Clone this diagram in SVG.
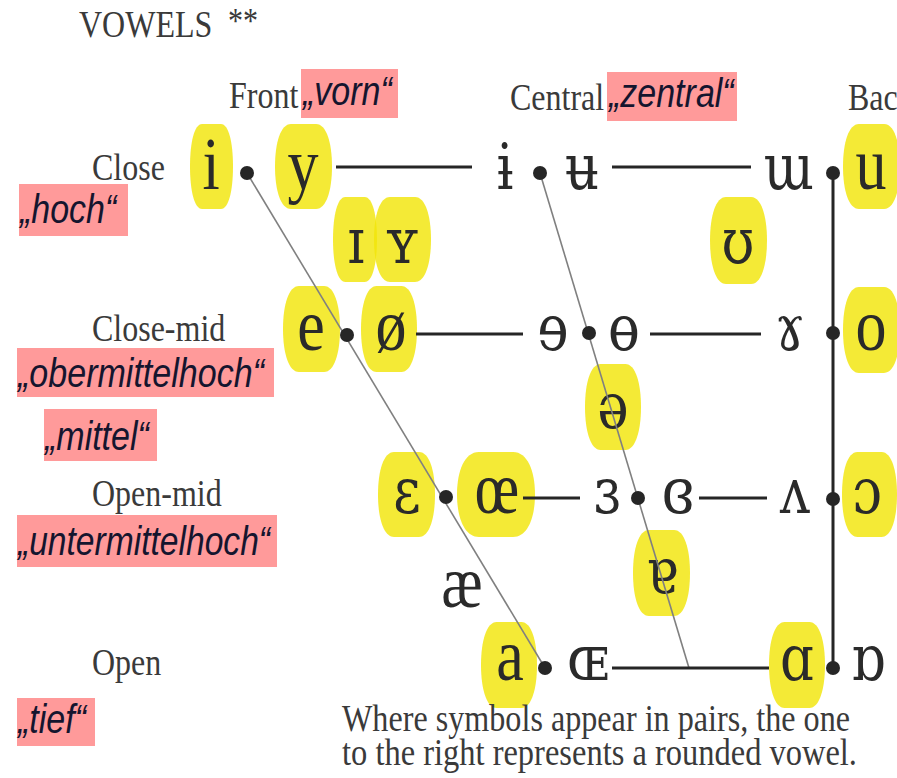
<svg xmlns="http://www.w3.org/2000/svg" width="897" height="778" viewBox="0 0 897 778">
<style>
.lbl{font-family:"Liberation Serif","DejaVu Serif",serif;font-size:32px;fill:#3a3a3a}
.sym{font-family:"Liberation Serif","DejaVu Serif",serif;font-size:62px;fill:#2a2a2a;text-anchor:middle}
.ipa{font-family:"DejaVu Serif","Liberation Serif",serif;font-size:53px;fill:#2a2a2a;text-anchor:middle}
.de{font-family:"Liberation Sans","DejaVu Sans",sans-serif;font-style:italic;font-size:34px;fill:#15152e}
.pink{fill:#ff9a9a}
.hl{fill:#f2e50a;fill-opacity:.82}
.ln{stroke:#262626;stroke-width:3;fill:none}
.thin{stroke:#808080;stroke-width:1.6;fill:none}
.dot{fill:#262626}
</style>
<defs>
<symbol id="hlshape" viewBox="0 0 100 100" preserveAspectRatio="none">
<path d="M28,0 H72 C90,0 100,22 100,50 C100,78 90,100 72,100 H28 C10,100 0,78 0,50 C0,22 10,0 28,0 Z"/>
</symbol>
</defs>
<rect width="897" height="778" fill="#ffffff"/>

<g id="title">
<text class="lbl" x="79" y="37" transform="matrix(1 0 0 1.19 0 -7.03)">VOWELS</text>
<text class="lbl" x="228" y="33" fill="#44556a" style="font-size:30px" transform="matrix(1 0 0 1.19 0 -6.27)">**</text>
</g>

<g id="col-front">
<text class="lbl" x="229" y="108" transform="matrix(1 0 0 1.19 0 -20.52)">Front</text>
<rect class="pink" x="301" y="69" width="97" height="49"/>
<text class="de" x="303" y="105" transform="matrix(1 0 0 1.19 0 -19.95)">„vorn“</text>
</g>
<g id="col-central">
<text class="lbl" x="510" y="110" transform="matrix(1 0 0 1.19 0 -20.9)">Central</text>
<rect class="pink" x="607" y="72" width="130" height="49"/>
<text class="de" x="609" y="107" transform="matrix(1 0 0 1.19 0 -20.33)">„zentral“</text>
</g>
<g id="col-back">
<text class="lbl" x="848" y="110" transform="matrix(1 0 0 1.19 0 -20.9)">Bac</text>
</g>

<g id="row-close">
<text class="lbl" x="92" y="180" transform="matrix(1 0 0 1.19 0 -34.2)">Close</text>
<rect class="pink" x="19" y="184" width="109" height="52"/>
<text class="de" x="20" y="223" transform="matrix(1 0 0 1.19 0 -42.37)">„hoch“</text>
</g>
<g id="row-closemid">
<text class="lbl" x="92" y="341" transform="matrix(1 0 0 1.19 0 -64.79)">Close-mid</text>
<rect class="pink" x="17" y="348" width="257" height="49"/>
<text class="de" x="18" y="387" textLength="246" lengthAdjust="spacingAndGlyphs" transform="matrix(1 0 0 1.19 0 -73.53)">„obermittelhoch“</text>
</g>
<g id="row-mid">
<rect class="pink" x="44" y="409" width="113" height="52"/>
<text class="de" x="45" y="450" transform="matrix(1 0 0 1.19 0 -85.5)">„mittel“</text>
</g>
<g id="row-openmid">
<text class="lbl" x="92" y="506" transform="matrix(1 0 0 1.19 0 -96.14)">Open-mid</text>
<rect class="pink" x="17" y="515" width="260" height="52"/>
<text class="de" x="18" y="555" textLength="252" lengthAdjust="spacingAndGlyphs" transform="matrix(1 0 0 1.19 0 -105.45)">„untermittelhoch“</text>
</g>
<g id="row-open">
<text class="lbl" x="92" y="675" transform="matrix(1 0 0 1.19 0 -128.25)">Open</text>
<rect class="pink" x="17" y="698" width="78" height="48"/>
<text class="de" x="18" y="733" transform="matrix(1 0 0 1.19 0 -139.27)">„tief“</text>
</g>

<!-- vowel nodes -->
<g id="v-i"><use href="#hlshape" class="hl" x="190" y="124" width="43" height="85"/><text class="sym" x="211" y="189" transform="matrix(1 0 0 1.19 0 -35.91)">i</text></g>
<g id="v-y"><use href="#hlshape" class="hl" x="275" y="124" width="57" height="85"/><text class="sym" x="303" y="189" transform="matrix(1 0 0 1.19 0 -35.91)">y</text></g>
<g id="v-barred-i"><text class="ipa" x="505" y="189" transform="matrix(1 0 0 1.19 0 -35.91)">ɨ</text></g>
<g id="v-barred-u"><text class="ipa" x="582" y="189" transform="matrix(1 0 0 1.19 0 -35.91)">ʉ</text></g>
<g id="v-turned-m"><text class="ipa" x="789" y="189" transform="matrix(1 0 0 1.19 0 -35.91)">ɯ</text></g>
<g id="v-u"><use href="#hlshape" class="hl" x="843" y="124" width="57" height="85"/><text class="sym" x="871" y="189" transform="matrix(1 0 0 1.19 0 -35.91)">u</text></g>

<g id="v-small-i"><use href="#hlshape" class="hl" x="333" y="197" width="44" height="85"/><text class="ipa" x="356" y="263" transform="matrix(1 0 0 1.19 0 -49.97)">ɪ</text></g>
<g id="v-small-y"><use href="#hlshape" class="hl" x="374" y="197" width="57" height="85"/><text class="ipa" x="402" y="263" transform="matrix(1 0 0 1.19 0 -49.97)">ʏ</text></g>
<g id="v-upsilon"><use href="#hlshape" class="hl" x="710" y="197" width="57" height="87"/><text class="ipa" x="738" y="263" transform="matrix(1 0 0 1.19 0 -49.97)">ʊ</text></g>

<g id="v-e"><use href="#hlshape" class="hl" x="283" y="286" width="57" height="86"/><text class="sym" x="311" y="350" transform="matrix(1 0 0 1.19 0 -66.5)">e</text></g>
<g id="v-oslash"><use href="#hlshape" class="hl" x="361" y="286" width="56" height="86"/><text class="sym" x="391" y="350" transform="matrix(1 0 0 1.19 0 -66.5)">ø</text></g>
<g id="v-rev-e"><text class="ipa" x="553" y="350" transform="matrix(1 0 0 1.19 0 -66.5)">ɘ</text></g>
<g id="v-barred-o"><text class="ipa" x="624" y="350" transform="matrix(1 0 0 1.19 0 -66.5)">ɵ</text></g>
<g id="v-ramshorn"><text class="ipa" x="790" y="350" transform="matrix(1 0 0 1.19 0 -66.5)">ɤ</text></g>
<g id="v-o"><use href="#hlshape" class="hl" x="843" y="287" width="57" height="86"/><text class="sym" x="871" y="350" transform="matrix(1 0 0 1.19 0 -66.5)">o</text></g>

<g id="v-schwa"><use href="#hlshape" class="hl" x="585" y="364" width="56" height="86"/><text class="ipa" x="613" y="428" transform="matrix(1 0 0 1.19 0 -81.32)">ə</text></g>

<g id="v-epsilon"><use href="#hlshape" class="hl" x="378" y="452" width="57" height="85"/><text class="ipa" x="407" y="513" transform="matrix(1 0 0 1.19 0 -97.47)">ɛ</text></g>
<g id="v-oe"><use href="#hlshape" class="hl" x="457" y="452" width="78" height="85"/><text class="sym" x="497" y="513" transform="matrix(1 0 0 1.19 0 -97.47)">œ</text></g>
<g id="v-rev-epsilon"><text class="ipa" x="607" y="513" transform="matrix(1 0 0 1.19 0 -97.47)">ɜ</text></g>
<g id="v-closed-rev-epsilon"><text class="ipa" x="678" y="513" transform="matrix(1 0 0 1.19 0 -97.47)">ɞ</text></g>
<g id="v-turned-v"><text class="ipa" x="795" y="513" transform="matrix(1 0 0 1.19 0 -97.47)">ʌ</text></g>
<g id="v-open-o"><use href="#hlshape" class="hl" x="842" y="452" width="55" height="85"/><text class="ipa" x="867" y="513" transform="matrix(1 0 0 1.19 0 -97.47)">ɔ</text></g>

<g id="v-turned-a"><use href="#hlshape" class="hl" x="633" y="530" width="57" height="86"/><text class="ipa" x="662" y="593" transform="matrix(1 0 0 1.19 0 -112.67)">ɐ</text></g>
<g id="v-ae"><text class="sym" x="462" y="607" transform="matrix(1 0 0 1.19 0 -115.33)">æ</text></g>

<g id="v-a"><use href="#hlshape" class="hl" x="481" y="622" width="56" height="86"/><text class="sym" x="510" y="680" transform="matrix(1 0 0 1.19 0 -129.2)">a</text></g>
<g id="v-small-oe"><text class="ipa" x="588" y="680" transform="matrix(1 0 0 1.19 0 -129.2)">ɶ</text></g>
<g id="v-alpha"><use href="#hlshape" class="hl" x="769" y="622" width="56" height="86"/><text class="ipa" x="797" y="680" transform="matrix(1 0 0 1.19 0 -129.2)">ɑ</text></g>
<g id="v-turned-alpha"><text class="ipa" x="868" y="680" transform="matrix(1 0 0 1.19 0 -129.2)">ɒ</text></g>

<g id="connectors">
<line class="thin" x1="247" y1="173" x2="545" y2="668"/>
<line class="thin" x1="540" y1="173" x2="689" y2="668"/>
<line class="ln" x1="336" y1="167" x2="472" y2="167"/>
<line class="ln" x1="612" y1="167" x2="751" y2="167"/>
<line class="ln" x1="416" y1="334" x2="523" y2="334"/>
<line class="ln" x1="650" y1="334" x2="761" y2="334"/>
<line class="ln" x1="523" y1="498" x2="580" y2="498"/>
<line class="ln" x1="699" y1="498" x2="767" y2="498"/>
<line class="ln" x1="612" y1="668" x2="769" y2="668"/>
<line class="ln" x1="833" y1="173" x2="833" y2="668"/>
<circle class="dot" cx="247" cy="173" r="7"/>
<circle class="dot" cx="540" cy="173" r="7"/>
<circle class="dot" cx="833" cy="173" r="7"/>
<circle class="dot" cx="347" cy="335" r="7"/>
<circle class="dot" cx="589" cy="333" r="7"/>
<circle class="dot" cx="833" cy="333" r="7"/>
<circle class="dot" cx="446" cy="497" r="7"/>
<circle class="dot" cx="638" cy="498" r="7"/>
<circle class="dot" cx="833" cy="499" r="7"/>
<circle class="dot" cx="545" cy="668" r="7"/>
<circle class="dot" cx="833" cy="668" r="7"/>
</g>

<g id="footnote">
<text class="lbl" x="342" y="731" textLength="508" lengthAdjust="spacingAndGlyphs" transform="matrix(1 0 0 1.19 0 -138.89)">Where symbols appear in pairs, the one</text>
<text class="lbl" x="342" y="765" textLength="515" lengthAdjust="spacingAndGlyphs" transform="matrix(1 0 0 1.19 0 -145.35)">to the right represents a rounded vowel.</text>
</g>
</svg>
